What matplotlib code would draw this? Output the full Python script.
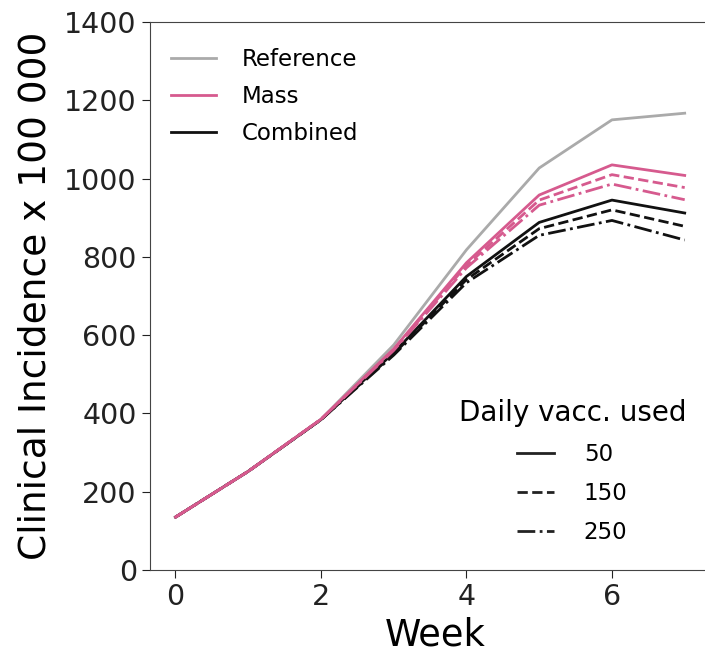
import matplotlib.pyplot as plt
from matplotlib.lines import Line2D

# semaines et incidence clinique (x 100 000)
weeks = [0, 1, 2, 3, 4, 5, 6, 7]
reference = [135, 252, 385, 575, 818, 1027, 1150, 1167]

mass_50 = [135, 252, 385, 565, 785, 958, 1035, 1008]
mass_150 = [135, 252, 385, 563, 778, 945, 1010, 977]
mass_250 = [135, 252, 385, 561, 772, 932, 986, 946]

comb_50 = [135, 252, 384, 555, 750, 888, 945, 912]
comb_150 = [135, 252, 384, 552, 742, 872, 920, 878]
comb_250 = [135, 252, 384, 549, 734, 855, 893, 843]

doses = ["50", "150", "250"]
styles = ["-", "--", "-."]

c_ref = "#aaaaaa"
c_mass = "#d65a8e"
c_comb = "#111111"

fig = plt.figure(figsize=(7.05, 6.55), dpi=100)
ax = fig.add_axes([0.2128, 0.1298, 0.81, 0.8366])

ax.plot(weeks, reference, color=c_ref, lw=2)
for y, ls in zip([comb_50, comb_150, comb_250], styles):
    ax.plot(weeks, y, color=c_comb, lw=2, ls=ls)
for y, ls in zip([mass_50, mass_150, mass_250], styles):
    ax.plot(weeks, y, color=c_mass, lw=2, ls=ls)

ax.set_xlim(-0.35, 7.5)
ax.set_ylim(0, 1400)
ax.set_xticks([0, 2, 4, 6])
ax.set_yticks(range(0, 1401, 200))
ax.tick_params(labelsize=20.5, length=6, colors="#222222")
for s in ax.spines.values():
    s.set_color("#444444")
ax.spines["right"].set_visible(False)
ax.set_xlabel("Week", fontsize=26.5, labelpad=4)
ax.set_ylabel("Clinical Incidence x 100 000", fontsize=27, labelpad=8)

# légende des stratégies
h1 = [Line2D([], [], color=c, lw=2) for c in [c_ref, c_mass, c_comb]]
leg1 = ax.legend(h1, ["Reference", "Mass", "Combined"], loc="upper left",
                 frameon=False, fontsize=16.5, labelspacing=0.6,
                 handletextpad=1.1, bbox_to_anchor=(0.0, 0.99))
ax.add_artist(leg1)

# légende des doses
h2 = [Line2D([], [], color="#222222", lw=2, ls=ls) for ls in styles]
leg2 = ax.legend(h2, doses, title="Daily vacc. used", loc="lower right",
                 frameon=False, fontsize=16.5, title_fontsize=20,
                 labelspacing=0.7, handlelength=1.6, handletextpad=1.3,
                 bbox_to_anchor=(0.975, 0.01))

plt.savefig("out.png", dpi=100)
